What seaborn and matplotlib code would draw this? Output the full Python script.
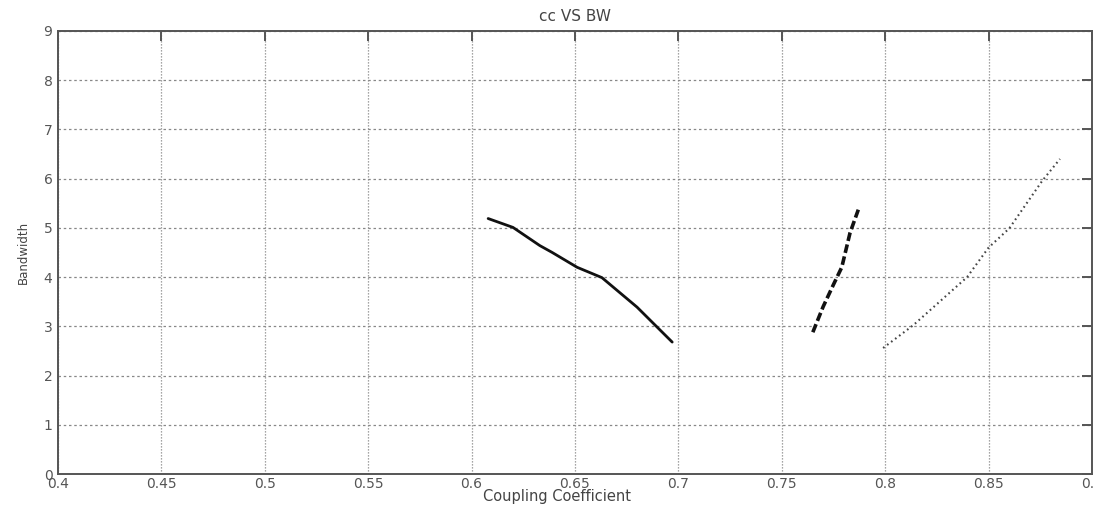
import matplotlib
matplotlib.use("Agg")
import matplotlib.pyplot as plt
import seaborn as sns
import pandas as pd

# ---- data ----
solid_cc = [0.608, 0.620, 0.633, 0.639, 0.651, 0.663, 0.680, 0.697]
solid_bw = [5.19, 5.01, 4.64, 4.50, 4.20, 3.99, 3.39, 2.68]

dashed_cc = [0.765, 0.770, 0.775, 0.779, 0.783, 0.787]
dashed_bw = [2.88, 3.40, 3.85, 4.20, 4.90, 5.37]

dotted_cc = [0.799, 0.8135, 0.8396, 0.850, 0.860, 0.876, 0.8845]
dotted_bw = [2.56, 3.02, 4.00, 4.60, 4.99, 5.96, 6.40]

x_ticks = [0.4, 0.45, 0.5, 0.55, 0.6, 0.65, 0.7, 0.75, 0.8, 0.85, 0.9]
x_tick_labels = ["0.4", "0.45", "0.5", "0.55", "0.6", "0.65", "0.7", "0.75", "0.8", "0.85", "0.9"]
y_ticks = [0, 1, 2, 3, 4, 5, 6, 7, 8, 9]

title = "cc VS BW"
x_label = "Coupling Coefficient"
y_label = "Bandwidth"

sns.set_style("white")
plt.rcParams["font.family"] = ["DejaVu Sans"]

fig = plt.figure(figsize=(10.93, 5.05), dpi=100)
W, H = 1093, 505
left, right, top, bottom = 58, 1092, 31, 474
ax = fig.add_axes([left / W, 1 - bottom / H, (right - left) / W, (bottom - top) / H])

df_solid = pd.DataFrame({"cc": solid_cc, "bw": solid_bw})
df_dashed = pd.DataFrame({"cc": dashed_cc, "bw": dashed_bw})
df_dotted = pd.DataFrame({"cc": dotted_cc, "bw": dotted_bw})

sns.lineplot(data=df_solid, x="cc", y="bw", ax=ax, color="#111111", lw=2.0,
             linestyle="-", sort=False, estimator=None)
sns.lineplot(data=df_dashed, x="cc", y="bw", ax=ax, color="#111111", lw=2.6,
             linestyle=(0, (2.4, 1.0)), sort=False, estimator=None)
sns.lineplot(data=df_dotted, x="cc", y="bw", ax=ax, color="#444444", lw=1.5,
             linestyle=(0, (0.8, 1.6)), sort=False, estimator=None)

ax.set_xlim(0.4, 0.9)
ax.set_ylim(0, 9)
ax.set_xticks(x_ticks)
ax.set_xticklabels(x_tick_labels)
ax.set_yticks(y_ticks)

ax.xaxis.grid(True, color="#888888", linestyle=(0, (1.0, 1.4)), linewidth=0.9)
ax.yaxis.grid(True, color="#888888", linestyle=(0, (2.0, 2.2)), linewidth=0.9)
ax.set_axisbelow(True)

for s in ax.spines.values():
    s.set_color("#555555")
    s.set_linewidth(1.4)

ax.tick_params(direction="in", length=7, width=1.4, color="#555555",
               top=True, right=True, labelsize=10, labelcolor="#555555")
ax.tick_params(axis="x", pad=2.5)
ax.tick_params(axis="y", pad=4)

ax.set_title(title, fontsize=11, color="#444444", pad=7)
ax.set_xlabel(x_label, fontsize=10.5, color="#444444")
ax.xaxis.set_label_coords(0.483, -0.033)
ax.set_ylabel(y_label, fontsize=8.5, color="#444444")
ax.yaxis.set_label_coords(-0.027, 0.5)

fig.savefig("out.png", dpi=100)
